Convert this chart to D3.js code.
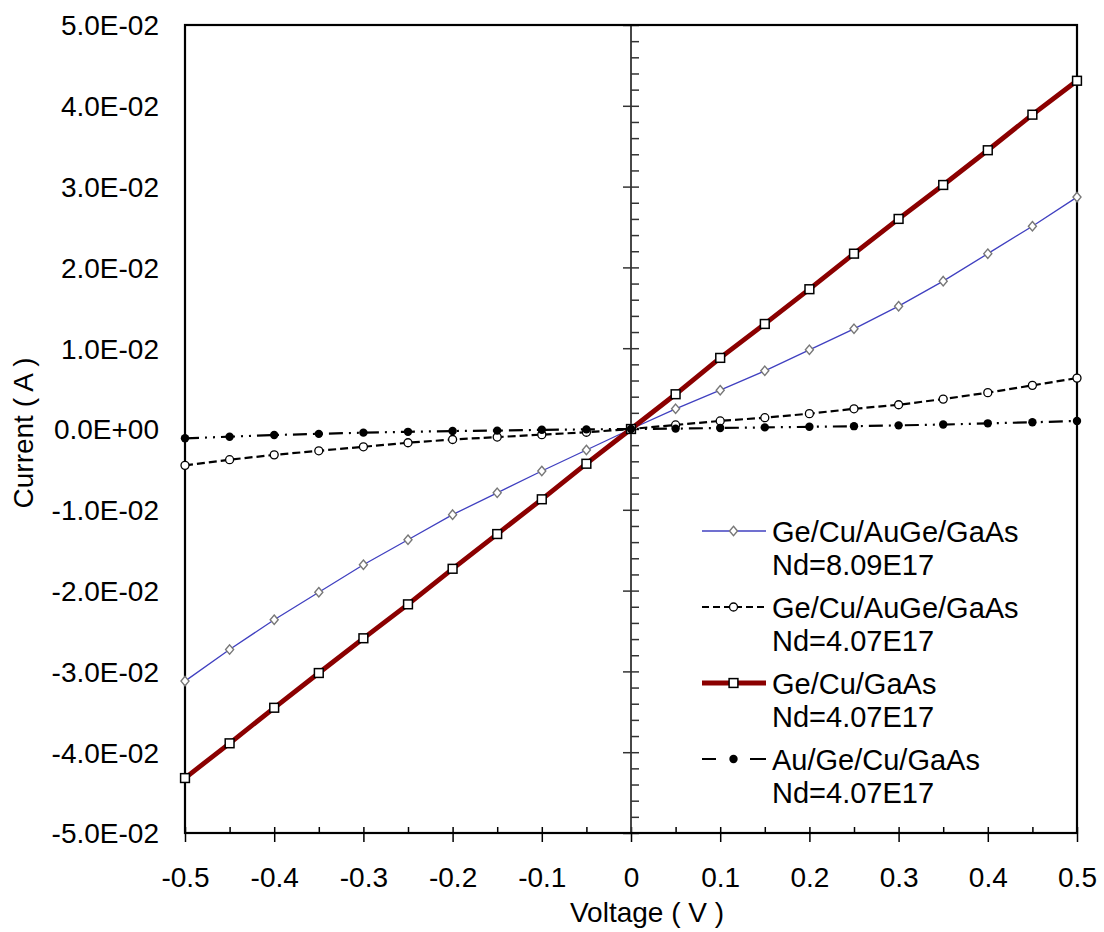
<!DOCTYPE html>
<html><head><meta charset="utf-8">
<script src="https://cdn.jsdelivr.net/npm/d3@7"></script>
<style>body{margin:0;background:#fff}svg{display:block}text{font-family:"Liberation Sans",Arial,sans-serif;fill:#000}</style>
</head><body>
<svg id="c" width="1104" height="932"></svg>
<script>
const voltages = [-0.5,-0.45,-0.4,-0.35,-0.3,-0.25,-0.2,-0.15,-0.1,-0.05,0,0.05,0.1,0.15,0.2,0.25,0.3,0.35,0.4,0.45,0.5];
const seriesBlue = [-0.0312,-0.0273,-0.0236,-0.0202,-0.0168,-0.0137,-0.0106,-0.0079,-0.0052,-0.0026,0,0.0025,0.0048,0.0072,0.0098,0.0124,0.0152,0.0183,0.0217,0.0251,0.0287];
const seriesDashed = [-0.0045,-0.0038,-0.0032,-0.0027,-0.0022,-0.0017,-0.0013,-0.0010,-0.0007,-0.0004,0,0.0005,0.0010,0.0014,0.0019,0.0025,0.0030,0.0037,0.0045,0.0054,0.0063];
const seriesRed = [-0.0432,-0.0389,-0.0345,-0.0302,-0.0259,-0.0217,-0.0173,-0.0130,-0.0087,-0.0043,0,0.0043,0.0088,0.0130,0.0173,0.0217,0.0260,0.0302,0.0345,0.0389,0.0431];
const seriesDashDot = [-0.00115,-0.00095,-0.00075,-0.0006,-0.00045,-0.00035,-0.00025,-0.0002,-0.0001,-0.00005,0,0.00005,0.00012,0.0002,0.00027,0.00035,0.00045,0.00055,0.0007,0.00083,0.001];
const seriesNames = ["Ge/Cu/AuGe/GaAs","Ge/Cu/AuGe/GaAs","Ge/Cu/GaAs","Au/Ge/Cu/GaAs"];
const seriesNd = ["Nd=8.09E17","Nd=4.07E17","Nd=4.07E17","Nd=4.07E17"];
const xTicks = [-0.5,-0.4,-0.3,-0.2,-0.1,0,0.1,0.2,0.3,0.4,0.5];
const xTickLabels = ["-0.5","-0.4","-0.3","-0.2","-0.1","0","0.1","0.2","0.3","0.4","0.5"];
const yTicks = [0.05,0.04,0.03,0.02,0.01,0,-0.01,-0.02,-0.03,-0.04,-0.05];
const yTickLabels = ["5.0E-02","4.0E-02","3.0E-02","2.0E-02","1.0E-02","0.0E+00","-1.0E-02","-2.0E-02","-3.0E-02","-4.0E-02","-5.0E-02"];
const xTitle = "Voltage ( V )", yTitle = "Current ( A )";

const L=185,R=1077,T=25,B=833;
const svg=d3.select("#c");
const x=d3.scaleLinear().domain([-0.5,0.5]).range([L,R]);
const y=d3.scaleLinear().domain([-0.05,0.05]).range([B,T]);
const FS=28, LFS=29;

// bottom axis: inner ticks (majors + minors)
const xMinor=d3.range(-0.5,0.5001,0.05).map(v=>+v.toFixed(2));
svg.append("g").attr("transform",`translate(0,${B})`)
  .call(d3.axisBottom(x).tickValues(xMinor).tickSize(-6).tickFormat(""))
  .call(g=>{g.select(".domain").remove();g.selectAll("line").attr("stroke","#000").attr("stroke-width",1.5);});
// outer major ticks + labels
svg.append("g").attr("transform",`translate(0,${B})`)
  .call(d3.axisBottom(x).tickValues(xTicks).tickSize(9).tickFormat((d,i)=>xTickLabels[i]))
  .call(g=>{g.select(".domain").remove();g.selectAll("line").attr("stroke","#000").attr("stroke-width",1.5);
    g.selectAll("text").attr("font-size",FS).attr("y",54).attr("dy",0).attr("font-family","Liberation Sans, Arial, sans-serif").attr("fill","#000");});

// left labels (no ticks)
svg.append("g").attr("transform",`translate(${L},0)`)
  .call(d3.axisLeft(y).tickValues(yTicks).tickSize(0).tickPadding(26).tickFormat((d,i)=>yTickLabels[i]))
  .call(g=>{g.select(".domain").remove();
    g.selectAll("text").attr("font-size",FS).attr("dy","0.35em").attr("font-family","Liberation Sans, Arial, sans-serif").attr("fill","#000");});

// center vertical axis at V=0
const yMinor=d3.range(-0.05,0.05001,0.002).map(v=>+v.toFixed(3));
svg.append("g").attr("transform",`translate(${x(0)},0)`)
  .call(d3.axisRight(y).tickValues(yMinor).tickSize(8).tickFormat(""))
  .call(g=>{g.select(".domain").remove();g.selectAll("line").attr("stroke","#333").attr("stroke-width",1.5);});
svg.append("g").attr("transform",`translate(${x(0)},0)`)
  .call(d3.axisLeft(y).tickValues(yTicks).tickSize(8).tickFormat(""))
  .call(g=>{g.select(".domain").remove();g.selectAll("line").attr("stroke","#333").attr("stroke-width",1.5);});
svg.append("line").attr("x1",x(0)).attr("x2",x(0)).attr("y1",T).attr("y2",B).attr("stroke","#333").attr("stroke-width",1.8);

// frame
svg.append("rect").attr("x",L).attr("y",T).attr("width",R-L).attr("height",B-T)
  .attr("fill","none").attr("stroke","#000").attr("stroke-width",2.2);

// series
const styles=[
  {data:seriesBlue,color:"#4040c0",w:1.3,dash:null,legDash:null,marker:"diamond"},
  {data:seriesDashed,color:"#000",w:2.2,dash:"8,4",legDash:"7,4",marker:"ocircle"},
  {data:seriesRed,color:"#8b0000",w:4.8,dash:null,legDash:null,marker:"square"},
  {data:seriesDashDot,color:"#000",w:2.2,dash:"14,6,2,6,2,6",legDash:"14,34,20",marker:"fcircle"}
];
function drawMarker(g,type,cx,cy){
  if(type==="diamond"){
    g.append("path").attr("d",`M${cx},${cy-4.7}L${cx+4},${cy}L${cx},${cy+4.7}L${cx-4},${cy}Z`)
      .attr("fill","#fff").attr("stroke","#777").attr("stroke-width",1.4);
  } else if(type==="ocircle"){
    g.append("circle").attr("cx",cx).attr("cy",cy).attr("r",4).attr("fill","#fff").attr("stroke","#000").attr("stroke-width",1.3);
  } else if(type==="square"){
    g.append("rect").attr("x",cx-4.4).attr("y",cy-4.4).attr("width",8.8).attr("height",8.8)
      .attr("fill","#fff").attr("stroke","#000").attr("stroke-width",1.5);
  } else {
    g.append("circle").attr("cx",cx).attr("cy",cy).attr("r",4.2).attr("fill","#000");
  }
}
const line=d3.line().x((d,i)=>x(voltages[i])).y(d=>y(d));
styles.forEach(s=>{
  const g=svg.append("g");
  g.append("path").attr("d",line(s.data)).attr("fill","none").attr("stroke",s.color)
    .attr("stroke-width",s.w).attr("stroke-dasharray",s.dash);
  s.data.forEach((v,i)=>drawMarker(g,s.marker,x(voltages[i]),y(v)));
});

// legend
const legY0=531, legStep=76;
styles.forEach((s,i)=>{
  const ly=legY0+i*legStep;
  const g=svg.append("g");
  g.append("line").attr("x1",702).attr("x2",766).attr("y1",ly).attr("y2",ly)
    .attr("stroke",s.color).attr("stroke-width",s.w).attr("stroke-dasharray",s.legDash);
  drawMarker(g,s.marker,733.5,ly);
  g.append("text").attr("x",772).attr("y",ly+11).attr("font-size",LFS).text(seriesNames[i]);
  g.append("text").attr("x",772).attr("y",ly+44).attr("font-size",LFS).text(seriesNd[i]);
});

// axis titles
svg.append("text").attr("x",647).attr("y",922).attr("text-anchor","middle").attr("font-size",FS).text(xTitle);
svg.append("text").attr("transform","translate(33,433) rotate(-90)").attr("text-anchor","middle").attr("font-size",FS).text(yTitle);
</script>
</body></html>
